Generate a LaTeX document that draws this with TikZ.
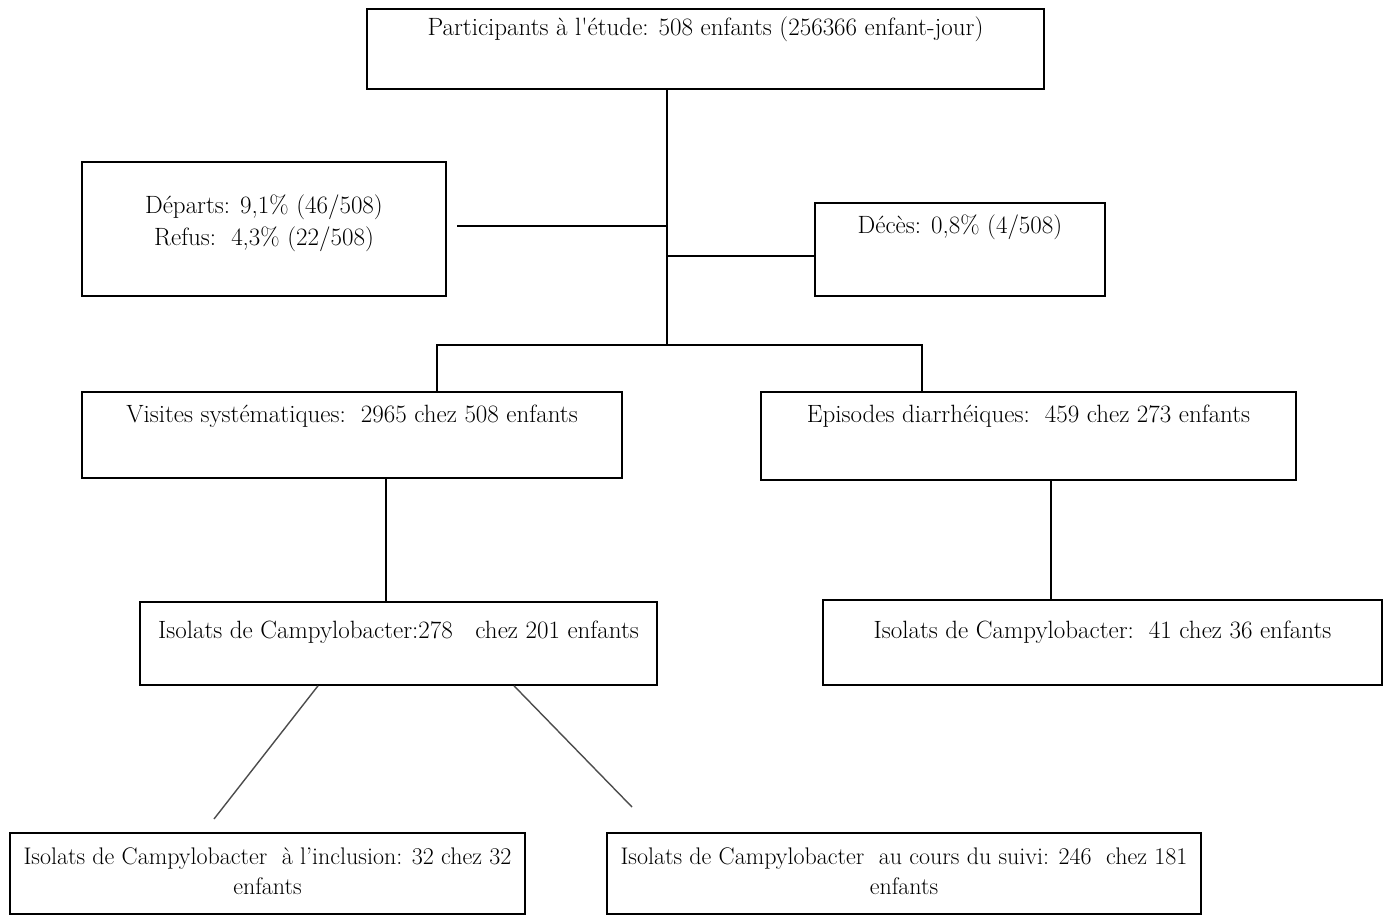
\documentclass[tikz,border=0pt]{standalone}
\usepackage{fontspec}
\usetikzlibrary{positioning}
\tikzset{
  box/.style={draw, line width=1.6pt, inner sep=0pt},
  txt/.style={inner sep=0pt, align=center, font=\fontsize{25}{30}\selectfont},
  link/.style={line width=1.6pt},
  thin link/.style={line width=1.4pt, black!70}
}
\begin{document}
\begin{tikzpicture}[x=1pt, y=-1pt]
    \useasboundingbox (0,0) rectangle (1389,916);

    % boxes, given by centre and size in pixels of the original
    \node[box, minimum width=677pt, minimum height=80pt]  (top)   at (705.5,49)   {};
    \node[box, minimum width=364pt, minimum height=134pt] (dep)   at (264,229)    {};
    \node[box, minimum width=290pt, minimum height=93pt]  (dec)   at (960,249.5)  {};
    \node[box, minimum width=540pt, minimum height=86pt]  (vis)   at (352,435)    {};
    \node[box, minimum width=535pt, minimum height=88pt]  (epi)   at (1028.5,436) {};
    \node[box, minimum width=517pt, minimum height=83pt]  (isoA)  at (398.5,643.5) {};
    \node[box, minimum width=559pt, minimum height=85pt]  (isoB)  at (1102.5,642.5) {};
    \node[box, minimum width=515pt, minimum height=81pt]  (incl)  at (267.5,873.5) {};
    \node[box, minimum width=594pt, minimum height=81pt]  (suivi) at (904,873.5)  {};

    \node[txt, below=8pt of top.north] (toptxt)
        {Participants à l\textquotesingle\'etude: 508 enfants (256366 enfant-jour)};
    \node[txt, below=33pt of dep.north, font=\fontsize{25}{32}\selectfont] (deptxt)
        {Départs: 9,1\% (46/508)\\Refus:\ \ 4,3\% (22/508)};
    \node[txt, below=12pt of dec.north] (dectxt) {Décès: 0,8\% (4/508)};
    \node[txt, below=14pt of vis.north] (vistxt)
        {Visites systématiques:\ \ 2965 chez 508 enfants};
    \node[txt, below=14pt of epi.north] (epitxt)
        {Episodes diarrhéiques:\ \ 459 chez 273 enfants};
    \node[txt, below=20pt of isoA.north] (isoAtxt)
        {Isolats de Campylobacter:278\ \ \ chez 201 enfants};
    \node[txt, below=22pt of isoB.north] (isoBtxt)
        {Isolats de Campylobacter:\ \ 41 chez 36 enfants};
    \node[txt, below=15pt of incl.north, font=\fontsize{24}{30}\selectfont] (incltxt)
        {Isolats de Campylobacter\ \ à l’inclusion: 32 chez 32\\enfants};
    \node[txt, below=15pt of suivi.north, font=\fontsize{24}{30}\selectfont] (suivitxt)
        {Isolats de Campylobacter\ \ au cours du suivi: 246\ \ chez 181\\enfants};

    \coordinate (split) at (667,345);
    \coordinate (depend) at (457,226);
    \coordinate (decjoin) at (667,256);
    \coordinate (lb) at (437,345);
    \coordinate (rb) at (922,345);
    \coordinate (visdown) at (386,0);
    \coordinate (epidown) at (1051,0);
    \coordinate (inclend) at (214,819);
    \coordinate (suiviend) at (632,807);

    \draw[link] (split |- top.south) -- (split);
    \draw[link] (depend) -- (depend -| split);
    \draw[link] (decjoin) -- (decjoin -| dec.west);
    \draw[link] (lb |- vis.north) -- (lb) -- (rb) -- (rb |- epi.north);
    \draw[link] (visdown |- vis.south) -- (visdown |- isoA.north);
    \draw[link] (epidown |- epi.south) -- (epidown |- isoB.north);
    \draw[thin link] (isoA.south -| 318,0) -- (inclend);
    \draw[thin link] (isoA.south -| 514,0) -- (suiviend);
\end{tikzpicture}
\end{document}
